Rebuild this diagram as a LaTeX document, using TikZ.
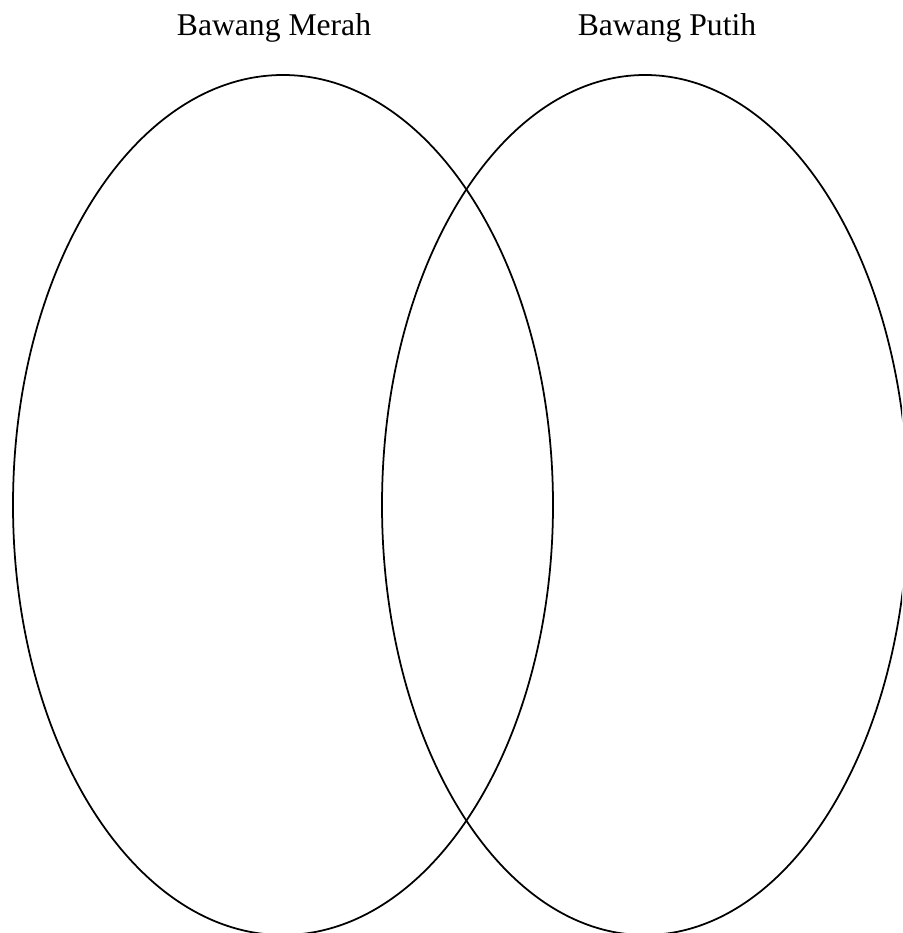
\documentclass[tikz,border=0pt]{standalone}
\usepackage{fontspec}
\setmainfont{Liberation Serif}
\begin{document}
\begin{tikzpicture}[x=0.03cm, y=-0.03cm]

\tikzset{myset/.style={draw=black, line width=1.5pt}}
\tikzset{mylabel/.style={anchor=base, inner sep=0pt, text=black, font=\fontsize{27}{32}\selectfont}}

\clip (0,0) rectangle (902,933);
\useasboundingbox (0,0) rectangle (902,933);

\draw[myset] (283,505) ellipse (270 and 430);
\draw[myset] (645,505) ellipse (263 and 430);

\node[mylabel] (merah) at (274,36) {Bawang Merah};
\node[mylabel] (putih) at (667,36) {Bawang Putih};

\end{tikzpicture}
\end{document}
